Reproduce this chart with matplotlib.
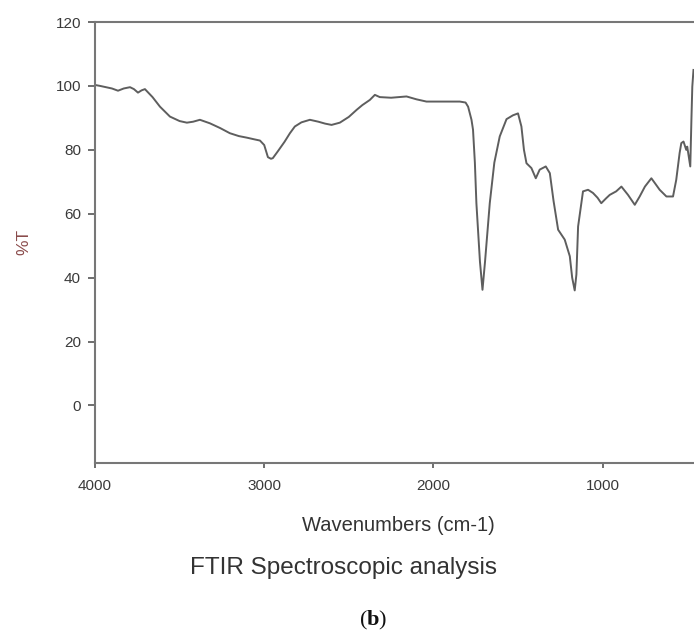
import matplotlib
matplotlib.use("Agg")
import matplotlib.pyplot as plt

# FTIR spectrum
wavenumber = [4000, 3970, 3900, 3864, 3830, 3793, 3770, 3746, 3725, 3705, 3660, 3616, 3557, 3500,
              3457, 3420, 3380, 3321, 3260, 3203, 3150, 3102, 3060, 3025, 3000, 2978, 2960, 2949,
              2920, 2880, 2848, 2819, 2780, 2730, 2680, 2640, 2602, 2553, 2500, 2454, 2420, 2376,
              2346, 2317, 2250, 2159, 2100, 2041, 1950, 1844, 1810, 1795, 1775, 1766, 1755, 1746,
              1725, 1710, 1695, 1667, 1640, 1608, 1568, 1530, 1500, 1480, 1465, 1450, 1421, 1395,
              1372, 1336, 1312, 1290, 1263, 1224, 1194, 1180, 1165, 1155, 1145, 1116, 1086, 1057,
              1030, 1008, 980, 958, 920, 889, 850, 810, 781, 750, 712, 690, 663, 623, 584, 565,
              545, 535, 522, 506, 500, 482, 475, 470, 463]
transmittance = [100.3, 100, 99.2, 98.5, 99.2, 99.6, 99, 97.9, 98.6, 99, 96.5, 93.5, 90.4, 89,
                 88.5, 88.8, 89.4, 88.3, 86.8, 85.2, 84.3, 83.8, 83.3, 82.9, 81.5, 77.7, 77.2, 77.4,
                 79.5, 82.5, 85.2, 87.3, 88.6, 89.4, 88.8, 88.2, 87.8, 88.5, 90.3, 92.5, 94, 95.6,
                 97.2, 96.5, 96.3, 96.7, 95.8, 95.1, 95.1, 95.1, 94.8, 93.5, 89.4, 86.3, 76, 63.3,
                 45, 36.2, 45, 63.3, 76, 84.2, 89.6, 90.8, 91.4, 87.3, 80, 75.8, 74.3, 71.1,
                 73.8, 74.8, 72.7, 64, 55, 51.9, 46.7, 40, 36, 41, 56, 67, 67.5, 66.5,
                 65, 63.3, 64.8, 65.9, 67, 68.5, 65.9, 62.8, 65.4, 68.5, 71.1, 69.5, 67.5, 65.4, 65.4, 70.6,
                 79, 82.1, 82.6, 80, 81, 74.8, 90, 99.8, 105]

x_ticks = [4000, 3000, 2000, 1000]
y_ticks = [0, 20, 40, 60, 80, 100, 120]

plt.rcParams['font.family'] = ['Liberation Sans', 'DejaVu Sans']
plt.rcParams['mathtext.fontset'] = 'custom'
plt.rcParams['mathtext.rm'] = 'Liberation Serif'
plt.rcParams['mathtext.bf'] = 'Liberation Serif:bold'

fig = plt.figure(figsize=(6.94, 6.35), dpi=100)
ax = fig.add_axes([95/694, 1-463/635, 1-95/694, (463-22)/635])

ax.plot(wavenumber, transmittance, color='#5e5e5e', lw=1.4)
ax.set_xlim(4000, 460)
ax.set_ylim(-18, 120)
ax.set_xticks(x_ticks)
ax.set_yticks(y_ticks)
ax.tick_params(axis='both', labelsize=11, labelcolor='#3a3a3a', color='#555555',
               width=1.2, direction='out')
ax.tick_params(axis='y', length=5, pad=5)
ax.tick_params(axis='x', length=3.5, pad=8)
for s in ['left', 'bottom', 'top']:
    ax.spines[s].set_color('#777777')
    ax.spines[s].set_linewidth(1.5)
ax.spines['right'].set_visible(False)

ax.set_ylabel('%T', color='#8a4b4b', fontsize=12.5, va='center', ha='center')
ax.yaxis.set_label_coords(-0.1185, 0.501)
ax.set_xlabel('Wavenumbers (cm-1)', color='#333333', fontsize=14.5, va='center')
ax.xaxis.set_label_coords(0.506, -0.1406)

fig.text(343/694, 1-568/635, 'FTIR Spectroscopic analysis', ha='center', va='center',
         fontsize=17.5, color='#333333')
fig.text(373/694, 1-620/635, r'(' + r'$\mathbf{b}$' + ')', ha='center', va='center',
         fontsize=16, family='Liberation Serif', color='#111111')

fig.savefig('out.png', dpi=100)
